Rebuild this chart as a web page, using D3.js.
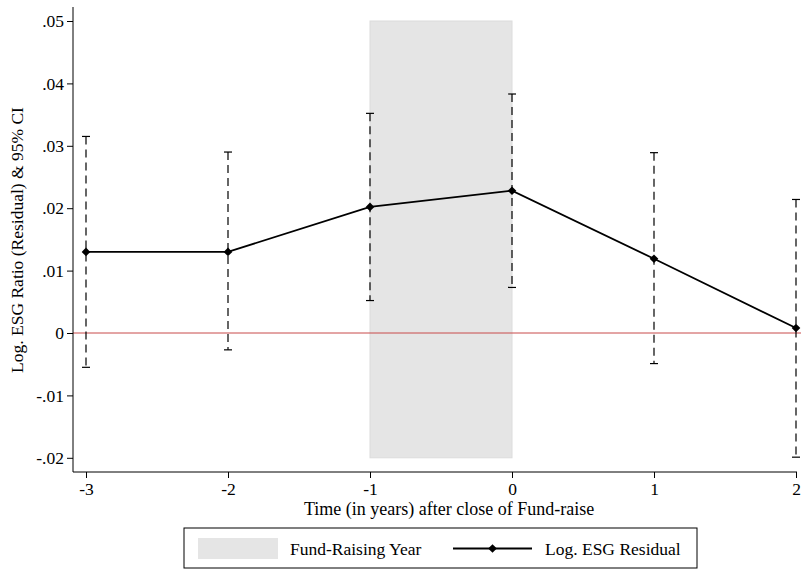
<!DOCTYPE html>
<html>
<head>
<meta charset="utf-8">
<script src="https://cdn.jsdelivr.net/npm/d3@7"></script>
<style>
  body { margin: 0; background: #fff; }
  svg { font-family: "Liberation Serif", "Times New Roman", serif; }
</style>
</head>
<body>
<svg id="chart" width="801" height="574"></svg>
<script>
// data
let years = [-3, -2, -1, 0, 1, 2];
let residual = [0.0130, 0.0130, 0.0202, 0.0228, 0.0119, 0.0008];
let ciUpper = [0.0315, 0.0290, 0.0352, 0.0383, 0.0289, 0.0214];
let ciLower = [-0.0055, -0.0027, 0.0052, 0.0073, -0.0049, -0.0199];
let yTicks = [-0.02, -0.01, 0, 0.01, 0.02, 0.03, 0.04, 0.05];
let xTicks = [-3, -2, -1, 0, 1, 2];
let fundRaise = {x0: -1, x1: 0, y0: -0.02, y1: 0.05};

let svg = d3.select('#chart');
let pad = {l: 73, t: 7, axisY: 472};
let fontSize = '17.5px';

let xScale = d3.scaleLinear().domain([-3, 2]).range([86, 796]);
let yScale = d3.scaleLinear().domain([0, 0.05]).range([333, 21]);

// shaded fund-raising year
svg.append('rect')
    .attr('x', xScale(fundRaise.x0))
    .attr('y', yScale(fundRaise.y1))
    .attr('width', xScale(fundRaise.x1) - xScale(fundRaise.x0))
    .attr('height', yScale(fundRaise.y0) - yScale(fundRaise.y1))
    .attr('fill', '#e5e5e5')
    .attr('stroke', '#dcdcdc')
    .attr('stroke-width', 1);

// zero line
svg.append('line')
    .attr('x1', pad.l).attr('x2', 801)
    .attr('y1', yScale(0)).attr('y2', yScale(0))
    .attr('stroke', '#c84a4a')
    .attr('stroke-width', 1);

// y axis
let fmt = d => d === 0 ? '0' : (d < 0 ? '-' : '') + d3.format('.2f')(Math.abs(d)).replace('0.', '.');
let yAxis = d3.axisLeft(yScale).tickValues(yTicks).tickFormat(fmt).tickSizeOuter(0).tickSize(6).tickPadding(3);
let yG = svg.append('g').attr('transform', `translate(${pad.l},0)`).call(yAxis);
yG.select('.domain').attr('d', `M0,${pad.t}V${pad.axisY}`);

// x axis
let xAxis = d3.axisBottom(xScale).tickValues(xTicks).tickFormat(d => d < 0 ? '-' + Math.abs(d) : d).tickSizeOuter(0).tickSize(6).tickPadding(5);
let xG = svg.append('g').attr('transform', `translate(0,${pad.axisY})`).call(xAxis);
xG.select('.domain').attr('d', `M${pad.l},0H797`);

[yG, xG].forEach(g => {
    g.selectAll('text').style('font-size', fontSize).attr('fill', '#000')
        .style('font-family', '"Liberation Serif", serif');
    g.selectAll('line, path').attr('stroke', '#000');
});

// axis titles
svg.append('text')
    .attr('x', 449)
    .attr('y', 515)
    .attr('text-anchor', 'middle')
    .style('font-size', '18px')
    .text('Time (in years) after close of Fund-raise');
svg.append('text')
    .attr('transform', `translate(23, 240) rotate(-90)`)
    .attr('text-anchor', 'middle')
    .style('font-size', fontSize)
    .text('Log. ESG Ratio (Residual) & 95% CI');

// confidence intervals
let ciG = svg.append('g');
years.forEach((yr, i) => {
    let x = xScale(yr);
    ciG.append('line')
        .attr('x1', x).attr('x2', x)
        .attr('y1', yScale(ciUpper[i])).attr('y2', yScale(ciLower[i]))
        .attr('stroke', '#000').attr('stroke-width', 1.2)
        .attr('stroke-dasharray', '8,5');
    [ciUpper[i], ciLower[i]].forEach(v => {
        ciG.append('line')
            .attr('x1', x - 4).attr('x2', x + 4)
            .attr('y1', yScale(v)).attr('y2', yScale(v))
            .attr('stroke', '#000').attr('stroke-width', 1.2);
    });
});

// residual line
let lineFun = d3.line()
    .x((d, i) => xScale(years[i]))
    .y(d => yScale(d));
svg.append('path')
    .datum(residual)
    .attr('d', lineFun)
    .attr('fill', 'none')
    .attr('stroke', '#000')
    .attr('stroke-width', 1.8);

let diamond = d3.symbol().type(d3.symbolDiamond2).size(48);
svg.append('g').selectAll('path')
    .data(residual)
    .join('path')
    .attr('d', diamond)
    .attr('transform', (d, i) => `translate(${xScale(years[i])},${yScale(d)})`)
    .attr('fill', '#000');

// legend
let legend = svg.append('g').attr('transform', 'translate(184,528)');
legend.append('rect')
    .attr('x', 0).attr('y', 0).attr('width', 513).attr('height', 40)
    .attr('fill', '#fff').attr('stroke', '#000').attr('stroke-width', 1);
legend.append('rect')
    .attr('x', 14).attr('y', 10).attr('width', 80).attr('height', 21)
    .attr('fill', '#e5e5e5');
legend.append('text')
    .attr('x', 106).attr('y', 26.5)
    .style('font-size', fontSize)
    .text('Fund-Raising Year');
legend.append('line')
    .attr('x1', 269).attr('x2', 348).attr('y1', 20.5).attr('y2', 20.5)
    .attr('stroke', '#000').attr('stroke-width', 1.8);
legend.append('path')
    .attr('d', diamond)
    .attr('transform', 'translate(308.5,20.5)')
    .attr('fill', '#000');
legend.append('text')
    .attr('x', 361).attr('y', 26.5)
    .style('font-size', fontSize)
    .text('Log. ESG Residual');
</script>
</body>
</html>
